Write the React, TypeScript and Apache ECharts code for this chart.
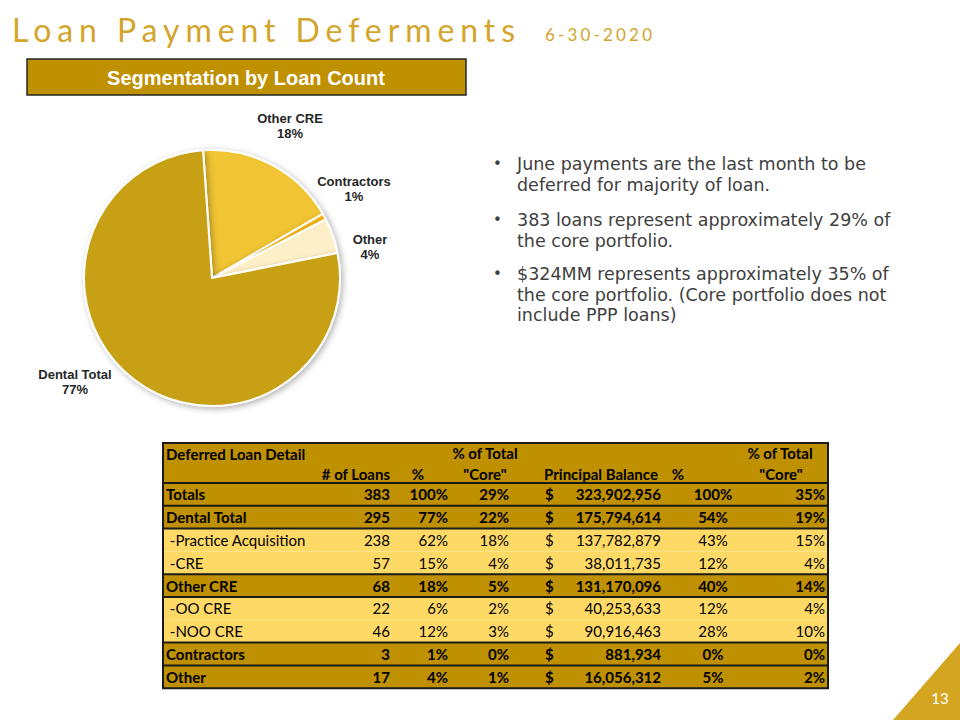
import React, { useEffect, useRef } from 'react';
import * as echarts from 'echarts';

// ---------- data ----------
const titleText = 'Loan Payment Deferments';
const dateText = '6-30-2020';
const boxTitle = 'Segmentation by Loan Count';

const sliceNames = ['Other CRE', 'Contractors', 'Other', 'Dental Total'];
const sliceCounts = [68, 3, 17, 295];

const bullets = [
  'June payments are the last month to be\ndeferred for majority of loan.',
  '383 loans represent approximately 29% of\nthe core portfolio.',
  '$324MM represents approximately 35% of\nthe core portfolio. (Core portfolio does not\ninclude PPP loans)',
];

const tableTitle = 'Deferred Loan Detail';
const headerLine1 = ['% of Total', '% of Total'];
const headerLine2 = ['# of Loans', '%', '"Core"', 'Principal Balance', '%', '"Core"'];

const rowLabels = ['Totals', 'Dental Total', ' -Practice Acquisition', ' -CRE', 'Other CRE', ' -OO CRE', ' -NOO CRE', 'Contractors', 'Other'];
const rowIsTotal = [true, true, false, false, true, false, false, true, true];
const loanCounts = [383, 295, 238, 57, 68, 22, 46, 3, 17];
const loanPct = [100, 77, 62, 15, 18, 6, 12, 1, 4];
const loanPctCore = [29, 22, 18, 4, 5, 2, 3, 0, 1];
const balances = [323902956, 175794614, 137782879, 38011735, 131170096, 40253633, 90916463, 881934, 16056312];
const balancePct = [100, 54, 43, 12, 40, 12, 28, 0, 5];
const balancePctCore = [35, 19, 15, 4, 14, 4, 10, 0, 2];

const pageNumber = '13';

// ---------- styles / layout ----------
const GOLD_TITLE = '#D3A52A';
const DARK = '#BF9000';
const LIGHT = '#FFD966';
const sliceColors = ['#F0C431', '#F2B413', '#FDF0C8', '#C8A012'];
const labelCenters = [[290, 126], [354, 189], [370, 247], [75, 382]];

const T_LEFT = 163;
const T_RIGHT = 828;
const T_TOP = 443;
const ROW0 = 483;
const ROW_H = 22.8;
const T_FS = 15;

const tableFont = 'Lato, "Open Sans", sans-serif';
const bulletFont = '"DejaVu Sans", "Open Sans", sans-serif';

function txt(text: string, x: number, y: number, opts: any = {}) {
  return {
    type: 'text',
    x,
    y,
    silent: true,
    style: {
      text,
      fill: opts.fill ?? '#000',
      fontFamily: opts.fontFamily ?? tableFont,
      fontSize: opts.fontSize ?? T_FS,
      fontWeight: opts.fontWeight ?? 'normal',
      align: opts.align ?? 'left',
      verticalAlign: opts.verticalAlign ?? 'middle',
      lineHeight: opts.lineHeight,
    },
  };
}

function buildGraphic() {
  const els: any[] = [];
  // title
  els.push(txt(titleText, 12, 29, { fill: GOLD_TITLE, fontSize: 32, fontFamily: 'Lato, sans-serif' }));
  els.push(txt(dateText, 545, 34, { fill: GOLD_TITLE, fontSize: 17, fontFamily: 'Lato, sans-serif' }));

  // segmentation box
  els.push({
    type: 'rect',
    shape: { x: 27, y: 59, width: 439, height: 36 },
    style: { fill: DARK, stroke: '#262626', lineWidth: 1.5 },
    silent: true,
  });
  els.push(txt(boxTitle, 246, 77.5, { fill: '#fff', fontSize: 20, fontWeight: 'bold', fontFamily: '"Liberation Sans", Arial, sans-serif', align: 'center' }));

  // bullets
  const bulletTops = [154, 210, 264];
  bullets.forEach((b, i) => {
    els.push(txt('•', 493, bulletTops[i], { fill: '#404040', fontSize: 15, fontFamily: bulletFont, verticalAlign: 'top', lineHeight: 20.5 }));
    els.push(txt(b, 517, bulletTops[i], { fill: '#404040', fontSize: 17.5, fontFamily: bulletFont, verticalAlign: 'top', lineHeight: 20.5 }));
  });

  // table header background
  els.push({ type: 'rect', shape: { x: T_LEFT, y: T_TOP, width: T_RIGHT - T_LEFT, height: ROW0 - T_TOP }, style: { fill: DARK }, silent: true });
  // rows
  rowLabels.forEach((_, i) => {
    els.push({
      type: 'rect',
      shape: { x: T_LEFT, y: ROW0 + i * ROW_H, width: T_RIGHT - T_LEFT, height: ROW_H },
      style: { fill: rowIsTotal[i] ? DARK : LIGHT },
      silent: true,
    });
  });

  // horizontal lines
  const lineYs: number[] = [ROW0];
  for (let i = 1; i < rowLabels.length; i++) {
    if (rowIsTotal[i] || rowIsTotal[i - 1]) lineYs.push(ROW0 + i * ROW_H);
  }
  lineYs.forEach((y) => {
    els.push({ type: 'line', shape: { x1: T_LEFT, y1: y, x2: T_RIGHT, y2: y }, style: { stroke: '#1a1a1a', lineWidth: 2 }, silent: true });
  });
  // outer border
  const tableBottom = ROW0 + rowLabels.length * ROW_H;
  els.push({
    type: 'rect',
    shape: { x: T_LEFT, y: T_TOP, width: T_RIGHT - T_LEFT, height: tableBottom - T_TOP },
    style: { fill: 'none', stroke: '#1a1a1a', lineWidth: 2 },
    silent: true,
  });

  // header text
  const hb = { fontWeight: 'bold' };
  els.push(txt(tableTitle, 166, 454, hb));
  els.push(txt(headerLine1[0], 485, 453, { ...hb, align: 'center' }));
  els.push(txt(headerLine1[1], 780, 453, { ...hb, align: 'center' }));
  els.push(txt(headerLine2[0], 390, 474, { ...hb, align: 'right' }));
  els.push(txt(headerLine2[1], 418, 474, { ...hb, align: 'center' }));
  els.push(txt(headerLine2[2], 485, 474, { ...hb, align: 'center' }));
  els.push(txt(headerLine2[3], 601, 474, { ...hb, align: 'center' }));
  els.push(txt(headerLine2[4], 678, 474, { ...hb, align: 'center' }));
  els.push(txt(headerLine2[5], 781, 474, { ...hb, align: 'center' }));

  // row text
  rowLabels.forEach((label, i) => {
    const y = ROW0 + i * ROW_H + ROW_H / 2;
    const o = { fontWeight: rowIsTotal[i] ? 'bold' : 'normal' };
    els.push(txt(label, 166, y, o));
    els.push(txt(String(loanCounts[i]), 390, y, { ...o, align: 'right' }));
    els.push(txt(loanPct[i] + '%', 448, y, { ...o, align: 'right' }));
    els.push(txt(loanPctCore[i] + '%', 509, y, { ...o, align: 'right' }));
    els.push(txt('$', 545, y, o));
    els.push(txt(balances[i].toLocaleString('en-US'), 661, y, { ...o, align: 'right' }));
    els.push(txt(balancePct[i] + '%', 713, y, { ...o, align: 'center' }));
    els.push(txt(balancePctCore[i] + '%', 825, y, { ...o, align: 'right' }));
  });

  // page corner
  els.push({
    type: 'polygon',
    shape: { points: [[893, 720], [960, 643], [960, 720]] },
    style: { fill: '#D4A520' },
    silent: true,
  });
  els.push(txt(pageNumber, 940, 698, { fill: '#fff', fontSize: 15, fontFamily: 'Lato, sans-serif', align: 'center' }));
  return els;
}

export default function App() {
  const ref = useRef<HTMLDivElement>(null);
  useEffect(() => {
    if (!ref.current) return;
    const chart = echarts.init(ref.current, undefined, { renderer: 'svg' });
    chart.setOption({
      animation: false,
      backgroundColor: '#fff',
      series: [
        {
          type: 'pie',
          center: [212, 278],
          radius: 128,
          startAngle: 94,
          clockwise: true,
          avoidLabelOverlap: false,
          percentPrecision: 0,
          silent: true,
          data: sliceNames.map((n, i) => ({ name: n, value: sliceCounts[i], itemStyle: { color: sliceColors[i] } })),
          itemStyle: {
            borderColor: '#fff',
            borderWidth: 2,
            shadowBlur: 6,
            shadowColor: 'rgba(0,0,0,0.3)',
            shadowOffsetX: 2,
            shadowOffsetY: 2,
          },
          label: {
            show: true,
            position: 'outside',
            formatter: '{b}\n{d}%',
            fontFamily: '"Liberation Sans", Arial, sans-serif',
            fontWeight: 'bold',
            fontSize: 13,
            lineHeight: 15,
            color: '#262626',
          },
          labelLine: { show: false },
          labelLayout: (p: any) => ({
            x: labelCenters[p.dataIndex][0],
            y: labelCenters[p.dataIndex][1],
            align: 'center',
            verticalAlign: 'middle',
          }),
        },
      ],
      graphic: { elements: buildGraphic() },
    });
    const spread = (text: string, width: number) => {
      ref.current?.querySelectorAll('text').forEach((t: any) => {
        if (t.textContent === text) {
          const len = t.getComputedTextLength();
          const ls = (width - len) / (text.length - 1);
          t.setAttribute('letter-spacing', ls.toFixed(2) + 'px');
        }
      });
    };
    spread(titleText, 503);
    spread(dateText, 107);
    return () => chart.dispose();
  }, []);
  return <div ref={ref} style={{ position: 'absolute', left: 0, top: 0, width: 960, height: 720 }} />;
}
